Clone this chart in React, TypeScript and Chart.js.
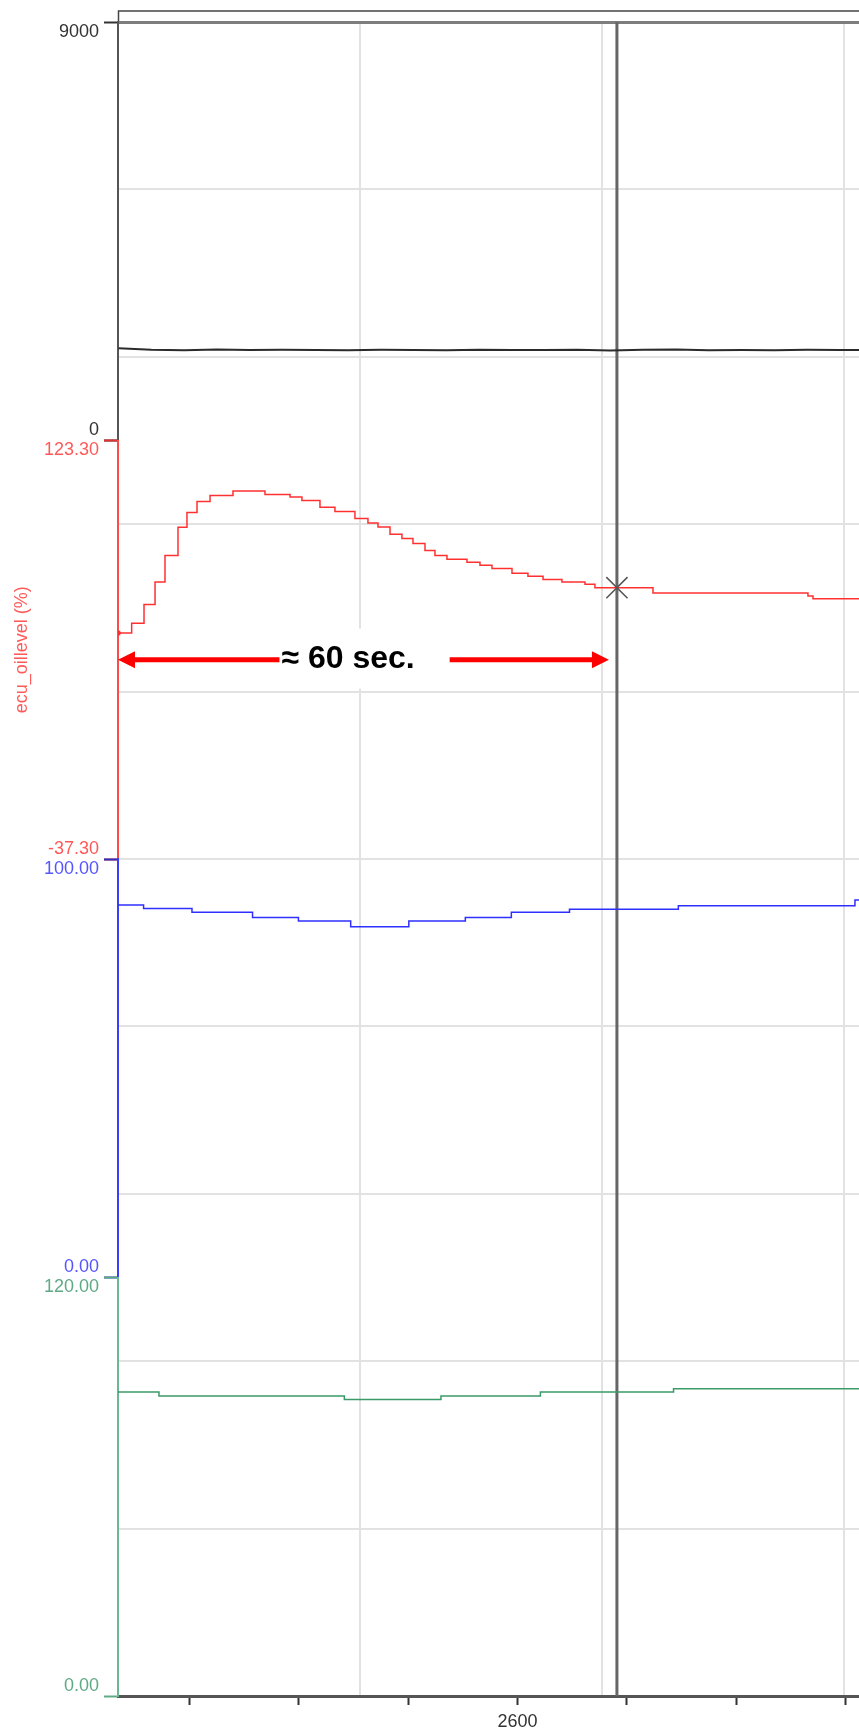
import React, { useEffect, useRef } from 'react';
import { Chart, registerables } from 'chart.js';

Chart.register(...registerables);

// ---------- data ----------
const X_MIN = 2563.45;
const X_MAX = 2631.25;
const X_TICKS = [2570, 2580, 2590, 2600, 2610, 2620, 2630];
const X_LABELED = [2600];
const CURSOR_X = 2609.1;
const CURSOR_RED = 66.8;

const BLACK_X = [2563.5, 2566.5, 2569.5, 2572.5, 2575.5, 2578.5, 2581.5, 2584.5, 2587.5, 2590.5, 2593.5, 2596.5, 2599.5, 2602.5, 2605.5, 2608.5, 2611.5, 2614.5, 2617.5, 2620.5, 2623.5, 2626.5, 2629.5, 2631.25];
const BLACK_Y = [1985, 1950, 1942, 1958, 1945, 1950, 1948, 1942, 1951, 1946, 1940, 1953, 1947, 1944, 1949, 1938, 1951, 1956, 1943, 1948, 1939, 1950, 1946, 1948];

const RED_X = [2563.45, 2564.7, 2565.83, 2566.84, 2567.75, 2568.94, 2569.76, 2570.68, 2571.87, 2573.97, 2576.9, 2579.19, 2580.28, 2581.93, 2583.3, 2585.13, 2586.32, 2587.24, 2588.34, 2589.43, 2590.44, 2591.54, 2592.45, 2593.55, 2595.38, 2596.57, 2597.67, 2599.5, 2600.96, 2602.34, 2604.07, 2606.18, 2607.09, 2612.4, 2626.58, 2627.04, 2631.25];
const RED_Y = [49.4, 53.2, 60.4, 69.0, 79.2, 90.0, 95.7, 99.9, 102.2, 103.9, 102.6, 101.6, 100.3, 97.7, 96.1, 93.4, 91.6, 90.1, 87.3, 85.7, 83.8, 81.1, 79.2, 77.7, 76.6, 75.4, 74.2, 72.4, 71.2, 70.0, 69.0, 68.1, 66.8, 64.8, 63.6, 62.6, 62.6];

const BLUE_X = [2563.45, 2565.79, 2570.22, 2575.76, 2579.96, 2584.74, 2590.06, 2595.23, 2599.44, 2604.76, 2614.72, 2630.88, 2631.25];
const BLUE_Y = [89.0, 88.2, 87.25, 86.05, 85.2, 83.8, 85.2, 86.05, 87.25, 88.0, 88.8, 90.2, 90.2];

const GREEN_X = [2563.45, 2567.2, 2584.16, 2593.0, 2602.1, 2614.28, 2631.25];
const GREEN_Y = [87.15, 86.0, 85.0, 86.0, 87.15, 88.1, 88.1];

const RANGE_BLACK = [0, 9000];
const RANGE_RED = [-37.3, 123.3];
const RANGE_BLUE = [0, 100];
const RANGE_GREEN = [0, 120];
const LABELS_BLACK = ['9000', '0'];
const LABELS_RED = ['123.30', '-37.30'];
const LABELS_BLUE = ['100.00', '0.00'];
const LABELS_GREEN = ['120.00', '0.00'];
const RED_TITLE = 'ecu_oillevel (%)';

const ANNOT_TEXT = '\u2248 60 sec.';
const ANNOT_Y = 39.2;
const ANNOT_TEXT_X = 2584.5;

const GRID_ROWS = 10;
const GRID_COLS = 3.06;

// ---------- styling ----------
const FONT = '"Liberation Sans", Arial, sans-serif';
const AXIS_W = 118;

function pts(xs: number[], ys: number[]) {
  return xs.map((x, i) => ({ x, y: ys[i] }));
}

function noPad(axis: any) {
  axis.paddingTop = 0;
  axis.paddingBottom = 0;
  axis.paddingLeft = 0;
  axis.paddingRight = 0;
}

function stackedAxis(range: number[], labels: string[], color: string, lineColor: string, tickColor: string, weight: number, title?: string) {
  return {
    type: 'linear',
    position: 'left',
    stack: 'main',
    stackWeight: 1,
    weight,
    min: range[0],
    max: range[1],
    afterBuildTicks: (axis: any) => {
      axis.ticks = [{ value: range[0] }, { value: range[1] }];
    },
    afterFit: (axis: any) => {
      axis.width = AXIS_W;
      noPad(axis);
    },
    ticks: {
      autoSkip: false,
      color,
      padding: 5,
      font: { family: FONT, size: 18, lineHeight: '20px' },
      callback: (v: number) => (v === range[1] ? ['', labels[0]] : [labels[1], '']),
    },
    grid: { display: true, drawOnChartArea: false, drawTicks: true, tickLength: 14, tickColor, tickWidth: 2 },
    border: { display: true, color: lineColor, width: 2 },
    title: title
      ? { display: true, text: title, color, font: { family: FONT, size: 18 }, padding: { top: 11, bottom: 0 } }
      : { display: false },
  };
}

const overlayPlugin = {
  id: 'overlay',
  beforeDraw(chart: any) {
    const { ctx, chartArea } = chart;
    ctx.save();
    ctx.strokeStyle = '#444';
    ctx.lineWidth = 1.5;
    ctx.beginPath();
    ctx.moveTo(chartArea.left + 0.5, chartArea.top);
    ctx.lineTo(chartArea.left + 0.5, chartArea.top - 11);
    ctx.lineTo(chartArea.right, chartArea.top - 11);
    ctx.stroke();
    ctx.restore();
  },
  afterDraw(chart: any) {
    const { ctx } = chart;
    const xs = chart.scales.x;
    const yr = chart.scales.yr;
    const y = yr.getPixelForValue(ANNOT_Y);
    const xL = xs.getPixelForValue(X_MIN);
    const xR = xs.getPixelForValue(CURSOR_X) - 8;
    const xT = xs.getPixelForValue(ANNOT_TEXT_X);
    ctx.save();
    ctx.font = 'bold 32px ' + FONT;
    const w = ctx.measureText(ANNOT_TEXT).width;
    const tL = xT - w / 2;
    const tR = xT + w / 2;
    ctx.fillStyle = '#ffffff';
    ctx.fillRect(tL - 20, y - 31, w + 55, 60);
    ctx.strokeStyle = '#ff0000';
    ctx.fillStyle = '#ff0000';
    ctx.lineWidth = 5;
    ctx.beginPath();
    ctx.moveTo(xL + 14, y);
    ctx.lineTo(tL - 2, y);
    ctx.moveTo(tR + 35, y);
    ctx.lineTo(xR - 14, y);
    ctx.stroke();
    ctx.beginPath();
    ctx.moveTo(xL, y);
    ctx.lineTo(xL + 17, y - 8.5);
    ctx.lineTo(xL + 17, y + 8.5);
    ctx.closePath();
    ctx.fill();
    ctx.beginPath();
    ctx.moveTo(xR, y);
    ctx.lineTo(xR - 17, y - 8.5);
    ctx.lineTo(xR - 17, y + 8.5);
    ctx.closePath();
    ctx.fill();
    ctx.fillStyle = '#000000';
    ctx.textAlign = 'center';
    ctx.textBaseline = 'middle';
    ctx.fillText(ANNOT_TEXT, xT, y);
    ctx.restore();
  },
};

export default function App() {
  const ref = useRef<HTMLCanvasElement | null>(null);

  useEffect(() => {
    if (!ref.current) return;
    const chart = new Chart(ref.current, {
      type: 'line',
      data: {
        datasets: [
          {
            type: 'scatter',
            data: [{ x: CURSOR_X, y: CURSOR_RED }],
            xAxisID: 'x',
            yAxisID: 'yr',
            pointStyle: 'crossRot',
            pointRadius: 15,
            borderColor: '#555555',
            backgroundColor: '#555555',
            pointBorderWidth: 1.5,
            order: 0,
          },
          {
            data: pts(BLACK_X, BLACK_Y),
            yAxisID: 'yk',
            borderColor: '#2b2b2b',
            borderWidth: 2,
            pointRadius: 0,
            tension: 0,
            order: 5,
          },
          {
            data: pts(RED_X, RED_Y),
            yAxisID: 'yr',
            borderColor: '#ff3030',
            backgroundColor: '#ff3030',
            borderWidth: 1.5,
            stepped: true,
            pointRadius: (c: any) => (c.dataIndex === 0 ? 2 : 0),
            order: 5,
          },
          {
            data: pts(BLUE_X, BLUE_Y),
            yAxisID: 'yb',
            borderColor: '#2f2fff',
            borderWidth: 1.5,
            stepped: true,
            pointRadius: 0,
            order: 5,
          },
          {
            data: pts(GREEN_X, GREEN_Y),
            yAxisID: 'ygr',
            borderColor: '#3a9a68',
            borderWidth: 1.5,
            stepped: true,
            pointRadius: 0,
            order: 5,
          },
          {
            data: [{ x: CURSOR_X, y: 0 }, { x: CURSOR_X, y: GRID_ROWS }],
            yAxisID: 'ygrid',
            borderColor: '#666666',
            borderWidth: 3,
            pointRadius: 0,
            order: 10,
          },
        ],
      } as any,
      options: {
        animation: false,
        responsive: false,
        devicePixelRatio: 1,
        layout: { autoPadding: false, padding: { top: 22, left: 0, right: 0, bottom: 0 } },
        plugins: { legend: { display: false }, tooltip: { enabled: false } },
        scales: {
          x: {
            type: 'linear',
            position: 'bottom',
            min: X_MIN,
            max: X_MAX,
            afterBuildTicks: (axis: any) => {
              axis.ticks = X_TICKS.map((v) => ({ value: v }));
            },
            afterFit: (axis: any) => {
              axis.height = 38;
              noPad(axis);
            },
            ticks: {
              autoSkip: false,
              maxRotation: 0,
              color: '#333333',
              padding: 6,
              font: { family: FONT, size: 18 },
              callback: (v: number) => (X_LABELED.includes(v) ? String(v) : ''),
            },
            grid: { display: true, drawOnChartArea: false, drawTicks: true, tickLength: 9, tickColor: '#333333', tickWidth: 2 },
            border: { display: true, color: '#555555', width: 3 },
          },
          xgrid: {
            type: 'linear',
            position: 'top',
            min: 0,
            max: GRID_COLS,
            afterFit: (axis: any) => {
              axis.height = 0;
              noPad(axis);
            },
            ticks: { display: false, stepSize: 1, includeBounds: false },
            grid: {
              drawTicks: false,
              color: (c: any) => (c.tick && c.tick.value === 0 ? 'rgba(0,0,0,0)' : '#e2e2e2'),
              lineWidth: 2,
            },
            border: { display: false },
          },
          ygrid: {
            type: 'linear',
            position: 'right',
            min: 0,
            max: GRID_ROWS,
            afterFit: (axis: any) => {
              axis.width = 0;
              noPad(axis);
            },
            ticks: { display: false, stepSize: 1 },
            grid: {
              drawTicks: false,
              color: (c: any) =>
                c.tick && c.tick.value === GRID_ROWS ? '#7d7d7d' : c.tick && c.tick.value === 0 ? 'rgba(0,0,0,0)' : '#e2e2e2',
              lineWidth: (c: any) => (c.tick && c.tick.value === GRID_ROWS ? 3 : 2),
            },
            border: { display: false },
          },
          yk: stackedAxis(RANGE_BLACK, LABELS_BLACK, '#333333', '#555555', '#333333', 4),
          yr: stackedAxis(RANGE_RED, LABELS_RED, '#ff5a5a', '#ff4a4a', '#e03030', 3, RED_TITLE),
          yb: stackedAxis(RANGE_BLUE, LABELS_BLUE, '#5656ff', '#3c3cff', '#3030c0', 2),
          ygr: stackedAxis(RANGE_GREEN, LABELS_GREEN, '#5faa86', '#6ab893', '#5faa86', 1),
        } as any,
      },
      plugins: [overlayPlugin],
    } as any);
    return () => chart.destroy();
  }, []);

  return (
    <div style={{ position: 'absolute', left: 0, top: 0, width: 859, height: 1734, background: '#fff' }}>
      <canvas ref={ref} width={859} height={1734} style={{ display: 'block' }} />
    </div>
  );
}
